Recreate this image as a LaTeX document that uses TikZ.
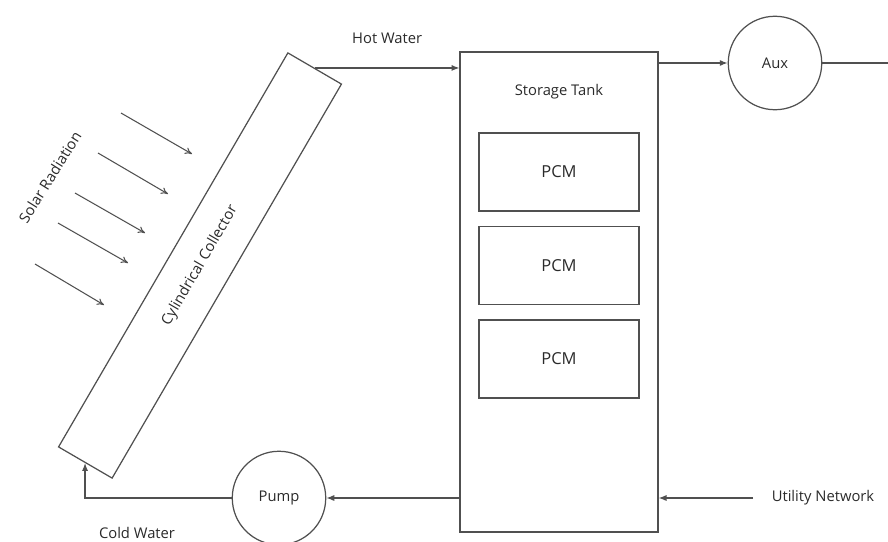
\documentclass[tikz,border=0pt]{standalone}
\usepackage{fontspec}
\setmainfont{Open Sans}
\usepackage{tikz}
\usetikzlibrary{arrows.meta,positioning}

\definecolor{linegray}{HTML}{505050}
\definecolor{textgray}{HTML}{2A2A2A}

\begin{document}
\begin{tikzpicture}[
  x=0.02cm, y=-0.02cm,
  every node/.style={text=textgray, font=\fontsize{8.4}{10}\selectfont},
  box/.style={draw=linegray, line width=0.7pt, rectangle},
  ball/.style={draw=linegray, line width=0.7pt, circle, minimum size=1.87cm},
  flow/.style={draw=linegray, line width=0.7pt, -{Latex[length=4.5pt,width=3.5pt]}},
  ray/.style={draw=linegray, line width=0.6pt, -{To[length=4pt,width=4pt]}}]
    \useasboundingbox (0,0) rectangle (888,541);
    % collector
    \node[box, rotate=59.8, minimum width=9.12cm, minimum height=1.24cm] (coll) at (200,265.5) {Cylindrical Collector};
    % solar radiation
    \node[rotate=58] (sun) at (50,177) {Solar Radiation};
    \foreach \xa/\ya/\xb/\yb in {121/113/192/154, 98/153/168/194, 75/193/145/233,
                                 58/223/128/263, 35/264/104/305}
        \draw[ray] (\xa,\ya) -- (\xb,\yb);
    % storage tank
    \node[box, minimum width=3.96cm, minimum height=9.6cm] (tank) at (559,292) {};
    \node (tanktext) at (559,92) {Storage Tank};
    \foreach \i/\y in {1/172, 2/265.5, 3/359}
        \node[box, minimum width=3.2cm, minimum height=1.56cm,
              font=\fontsize{9.4}{11}\selectfont] (pcm\i) at (559,\y) {PCM};
    % aux heater and pump
    \node[ball] (aux) at (775,63) {Aux};
    \node[ball] (pump) at (279,498) {Pump};
    \coordinate (out) at (888,63);
    \node (util) at (823,498) {Utility Network};
    \coordinate (utilin) at (753,498);
    % connectors
    \draw[flow] (coll.east) -- (coll.east -| tank.west)
        node[midway, above=10pt] (hot) {Hot Water};
    \draw[flow] (tank.east |- aux) -- (aux.west);
    \draw[draw=linegray, line width=0.7pt] (aux.east) -- (out);
    \draw[flow] (utilin) -- (utilin -| tank.east);
    \draw[flow] (tank.west |- pump) -- (pump.east);
    \draw[flow] (pump.west) -| (coll.west);
    \node (cold) at (137,533) {Cold Water};
\end{tikzpicture}
\end{document}
